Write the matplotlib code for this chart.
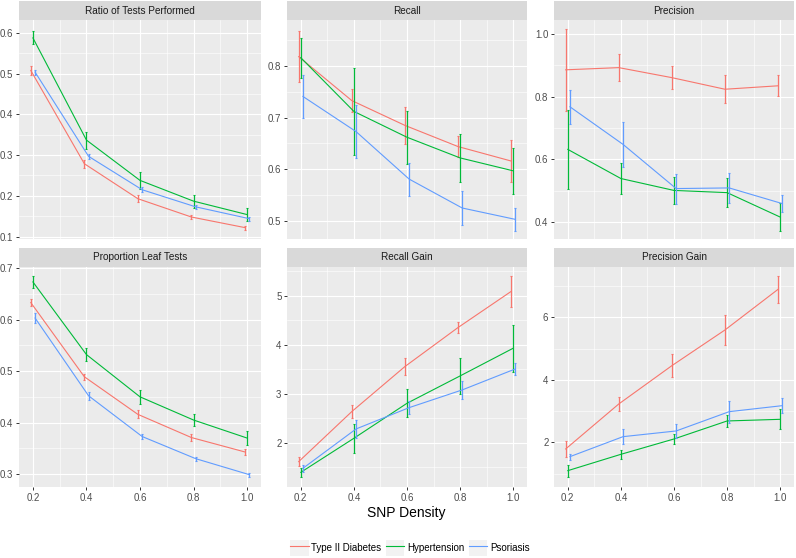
import matplotlib
matplotlib.use('Agg')
import matplotlib.pyplot as plt
from matplotlib.ticker import MultipleLocator, FormatStrFormatter, AutoMinorLocator
from matplotlib.lines import Line2D
from matplotlib.patches import Patch
from matplotlib.legend_handler import HandlerTuple

plt.rcParams['font.family'] = ['Liberation Sans', 'DejaVu Sans']

# data: means and half-width of error bars, order = diseases
density = [0.2, 0.4, 0.6, 0.8, 1.0]
diseases = ['Type II Diabetes', 'Hypertension', 'Psoriasis']
colors = ['#F8766D', '#00BA38', '#619CFF']

ratio_mean = [[0.508, 0.279, 0.193, 0.148, 0.122],
              [0.588, 0.337, 0.238, 0.187, 0.154],
              [0.504, 0.297, 0.215, 0.173, 0.144]]
ratio_err = [[0.012, 0.010, 0.008, 0.006, 0.005],
             [0.016, 0.021, 0.020, 0.016, 0.015],
             [0.006, 0.007, 0.006, 0.005, 0.005]]

recall_mean = [[0.818, 0.733, 0.685, 0.644, 0.616],
               [0.816, 0.712, 0.662, 0.622, 0.597],
               [0.741, 0.673, 0.581, 0.525, 0.503]]
recall_err = [[0.050, 0.022, 0.036, 0.021, 0.040],
              [0.039, 0.085, 0.051, 0.046, 0.045],
              [0.041, 0.052, 0.032, 0.033, 0.022]]

prec_mean = [[0.886, 0.893, 0.861, 0.824, 0.835],
             [0.632, 0.539, 0.501, 0.494, 0.416],
             [0.768, 0.648, 0.507, 0.509, 0.459]]
prec_err = [[0.130, 0.043, 0.036, 0.045, 0.033],
            [0.125, 0.050, 0.042, 0.047, 0.045],
            [0.055, 0.071, 0.048, 0.047, 0.027]]

leaf_mean = [[0.633, 0.489, 0.416, 0.371, 0.343],
             [0.673, 0.532, 0.450, 0.405, 0.370],
             [0.603, 0.452, 0.373, 0.330, 0.299]]
leaf_err = [[0.007, 0.006, 0.008, 0.007, 0.006],
            [0.011, 0.013, 0.014, 0.012, 0.014],
            [0.009, 0.008, 0.005, 0.004, 0.004]]

rgain_mean = [[1.612, 2.635, 3.555, 4.352, 5.090],
              [1.394, 2.090, 2.805, 3.364, 3.930],
              [1.476, 2.280, 2.716, 3.078, 3.507]]
rgain_err = [[0.085, 0.14, 0.18, 0.11, 0.32],
             [0.09, 0.30, 0.29, 0.375, 0.48],
             [0.075, 0.19, 0.14, 0.19, 0.13]]

pgain_mean = [[1.787, 3.227, 4.453, 5.595, 6.896],
              [1.093, 1.616, 2.107, 2.683, 2.736],
              [1.541, 2.181, 2.363, 2.981, 3.173]]
pgain_err = [[0.27, 0.22, 0.36, 0.49, 0.43],
             [0.19, 0.15, 0.16, 0.19, 0.32],
             [0.10, 0.23, 0.23, 0.35, 0.24]]

panels = [
    ('Ratio of Tests Performed', ratio_mean, ratio_err, (0.094, 0.632), 0.1, '%.1f'),
    ('Recall', recall_mean, recall_err, (0.465, 0.889), 0.1, '%.1f'),
    ('Precision', prec_mean, prec_err, (0.346, 1.045), 0.2, '%.1f'),
    ('Proportion Leaf Tests', leaf_mean, leaf_err, (0.275, 0.702), 0.1, '%.1f'),
    ('Recall Gain', rgain_mean, rgain_err, (1.094, 5.59), 1, '%d'),
    ('Precision Gain', pgain_mean, pgain_err, (0.57, 7.61), 2, '%d'),
]
dodge = [-0.008, 0.0, 0.008]

W, H = 796, 558
fig = plt.figure(figsize=(W / 100, H / 100), dpi=100)

def box(x0, x1, y0, y1):
    return [x0 / W, 1 - y1 / H, (x1 - x0) / W, (y1 - y0) / H]

cols = [(19, 261), (287, 527), (554, 794)]
rows = [(20, 239), (267, 487)]

for i, (title, means, errs, ylim, step, fmt) in enumerate(panels):
    r, c = divmod(i, 3)
    x0, x1 = cols[c]
    y0, y1 = rows[r]
    ax = fig.add_axes(box(x0, x1, y0, y1))
    ax.set_facecolor('#EBEBEB')
    for s in ax.spines.values():
        s.set_visible(False)
    for k in range(3):
        xs = [d + dodge[k] for d in density]
        ax.plot(xs, means[k], color=colors[k], lw=0.8, zorder=3)
        ax.errorbar(xs, means[k], yerr=errs[k], fmt='none', ecolor=colors[k],
                    elinewidth=0.9, capsize=0.8, capthick=0.8, zorder=3)
    ax.set_xlim(0.148, 1.052)
    ax.set_ylim(*ylim)
    ax.xaxis.set_major_locator(MultipleLocator(0.2))
    ax.xaxis.set_minor_locator(AutoMinorLocator(2))
    ax.yaxis.set_major_locator(MultipleLocator(step))
    ax.yaxis.set_minor_locator(AutoMinorLocator(2))
    ax.yaxis.set_major_formatter(FormatStrFormatter(fmt))
    ax.xaxis.set_major_formatter(FormatStrFormatter('%.1f'))
    ax.grid(which='major', color='white', lw=0.8)
    ax.grid(which='minor', color='white', lw=0.4)
    ax.set_axisbelow(True)
    ax.tick_params(which='major', length=2.5, width=0.7, color='#333333',
                   labelsize=7, labelcolor='#4D4D4D', pad=1.5)
    ax.tick_params(which='minor', length=0)
    if r == 0:
        ax.tick_params(axis='x', which='major', length=0, labelbottom=False)
    # strip
    sax = fig.add_axes(box(x0, x1, y0 - 19, y0))
    sax.set_facecolor('#D9D9D9')
    sax.set_xticks([])
    sax.set_yticks([])
    for s in sax.spines.values():
        s.set_visible(False)
    sax.text(0.5, 0.5, title, ha='center', va='center', fontsize=7.2,
             color='#1A1A1A', transform=sax.transAxes)

fig.text(406.5 / W, 1 - 513 / H, 'SNP Density', ha='center', va='center',
         fontsize=10, color='black')

handles = [(Patch(facecolor='#F2F2F2', edgecolor='none'),
            Line2D([], [], color=col, lw=0.8)) for col in colors]
fig.legend(handles, diseases, loc='center', bbox_to_anchor=(410 / W, 1 - 548 / H),
           ncol=3, frameon=False, fontsize=7, handlelength=1.9, handleheight=2.0,
           handletextpad=0.3, columnspacing=0.45,
           handler_map={tuple: HandlerTuple(ndivide=1)})

fig.savefig('out.png', dpi=100)
